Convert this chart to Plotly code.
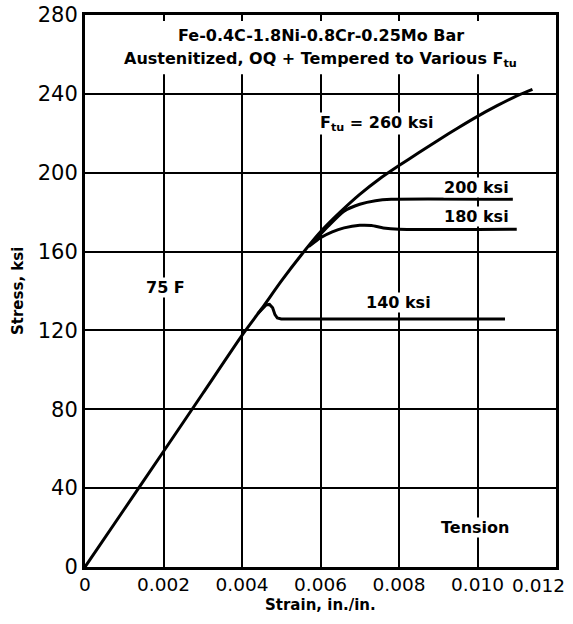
import plotly.graph_objects as go

# ---- data ----
strain_260 = [0, 0.001, 0.002, 0.003, 0.004, 0.0045, 0.005, 0.0055, 0.006, 0.0065,
              0.007, 0.0075, 0.008, 0.0085, 0.009, 0.0095, 0.010, 0.0105, 0.011, 0.0114]
stress_260 = [0, 29.3, 58.6, 88, 117.5, 131, 145, 158, 170, 180,
              189, 196.8, 203.6, 210.1, 216.5, 222.7, 228.6, 234, 239, 242.3]

strain_200 = [0.0058, 0.0062, 0.0066, 0.0070, 0.0074, 0.0078, 0.0109]
stress_200 = [164.5, 173, 180.5, 184, 185.8, 186.5, 186.5]

strain_180 = [0.0057, 0.0060, 0.0063, 0.0066, 0.0070, 0.0073, 0.0076, 0.0080, 0.0110]
stress_180 = [162.5, 167, 170, 172, 173.3, 173.2, 172, 171.3, 171.3]

strain_140 = [0.0044, 0.00462, 0.00470, 0.00478, 0.00484, 0.0049, 0.0050, 0.0107]
stress_140 = [128.5, 133, 133.2, 131.5, 128, 126.3, 125.8, 125.8]

x_ticks = [0, 0.002, 0.004, 0.006, 0.008, 0.010, 0.012]
x_tick_labels = ["0", "0.002", "0.004", "0.006", "0.008", "0.010", "0.012"]
y_ticks = [0, 40, 80, 120, 160, 200, 240, 280]

curve_labels = [
    ("F<sub>tu</sub> = 260 ksi", 0.00743, 225),
    ("200 ksi", 0.00998, 192.7),
    ("180 ksi", 0.00998, 178),
    ("140 ksi", 0.00798, 134),
    ("75 F", 0.00204, 142),
    ("Tension", 0.00994, 19.8),
]
title_lines = ["Fe-0.4C-1.8Ni-0.8Cr-0.25Mo Bar",
               "Austenitized, OQ + Tempered to Various F<sub>tu</sub>"]

LBL = dict(family="DejaVu Sans", size=16, color="black", weight="bold")
XTICK = dict(family="DejaVu Sans", size=18.5, color="black")

fig = go.Figure()
for xs, ys, shp in [(strain_260, stress_260, "spline"), (strain_200, stress_200, "spline"),
                    (strain_180, stress_180, "spline"), (strain_140, stress_140, "linear")]:
    fig.add_trace(go.Scatter(x=xs, y=ys, mode="lines", line_shape=shp,
                             line=dict(color="black", width=3, smoothing=0.6 if shp == "spline" else None),
                             showlegend=False, hoverinfo="skip"))

fig.update_layout(
    width=573, height=624,
    margin=dict(l=85, r=17, t=15, b=57),
    paper_bgcolor="white", plot_bgcolor="white",
    showlegend=False,
)
# the last x label sits left of its gridline in the reference, so it is drawn separately
fig.update_xaxes(range=[0, 0.012], tickvals=x_ticks[:-1], ticktext=x_tick_labels[:-1],
                 showgrid=True, gridcolor="black", gridwidth=1.6,
                 showline=True, linecolor="black", linewidth=3, mirror=True,
                 zeroline=False, ticks="", ticklabelstandoff=-1, automargin=False,
                 tickfont=XTICK)
fig.update_yaxes(range=[0, 280], tickvals=y_ticks,
                 showgrid=True, gridcolor="black", gridwidth=1.6,
                 showline=True, linecolor="black", linewidth=3, mirror=True,
                 zeroline=False, ticks="", ticklabelstandoff=0, automargin=False,
                 tickfont=dict(family="DejaVu Sans", size=21, color="black"))

fig.add_annotation(text=x_tick_labels[-1], xref="x", yref="paper", x=x_ticks[-1], y=0,
                   xanchor="right", yanchor="middle", xshift=11, yshift=-18,
                   showarrow=False, font=XTICK)

# white panel behind the title (gridlines are interrupted there)
fig.add_shape(type="rect", xref="x", yref="y", x0=0.0003, x1=0.01185, y0=250, y1=277,
              fillcolor="white", line=dict(width=0), layer="above")

fig.add_annotation(text=title_lines[0], xref="x", yref="y", x=0.00601, y=269.8,
                   showarrow=False, font=dict(LBL, size=16))
fig.add_annotation(text=title_lines[1], xref="x", yref="y", x=0.00601, y=257.5,
                   showarrow=False, font=dict(LBL, size=16))

for txt, x, y in curve_labels:
    fig.add_annotation(text=txt, xref="x", yref="y", x=x, y=y, showarrow=False,
                       font=LBL, bgcolor="white", borderpad=0)

fig.add_annotation(text="Strain, in./in.", xref="paper", yref="paper", x=0.5, y=0,
                   yanchor="middle", yshift=-38, showarrow=False, font=dict(LBL, size=15))
fig.add_annotation(text="Stress, ksi", xref="paper", yref="paper", x=0, y=0.5,
                   xanchor="center", xshift=-67, textangle=-90, showarrow=False,
                   font=dict(LBL, size=15))

fig.write_html("out.html")
